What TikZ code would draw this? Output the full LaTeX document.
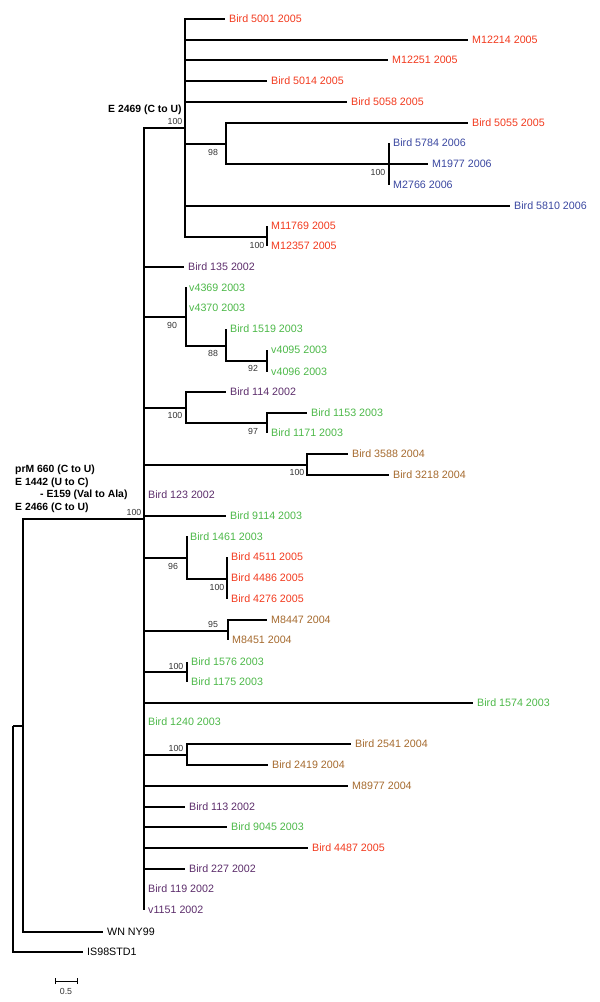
\documentclass[tikz,border=0pt]{standalone}
\usepackage{fontspec}
\setmainfont{Liberation Sans}
\definecolor{cred}{HTML}{F23A1E}
\definecolor{cblue}{HTML}{3A47A0}
\definecolor{cpurp}{HTML}{5C2D6B}
\definecolor{cgreen}{HTML}{4CB848}
\definecolor{cbrown}{HTML}{A56A2E}
\definecolor{cgray}{HTML}{333333}
\tikzset{
  br/.style={line width=1.3pt, draw=black},
  lf/.style={anchor=west, inner ysep=0pt, inner xsep=4pt, font=\fontsize{10.7}{12}\selectfont},
  rd/.style={lf, text=cred}, bl/.style={lf, text=cblue}, pu/.style={lf, text=cpurp},
  gr/.style={lf, text=cgreen}, bn/.style={lf, text=cbrown}, bk/.style={lf, text=black},
  bs/.style={inner sep=0pt, text=cgray, font=\fontsize{8.8}{10}\selectfont},
  mut/.style={anchor=west, inner sep=0pt, font=\bfseries\fontsize{10.4}{12}\selectfont}
}
\begin{document}
\begin{tikzpicture}[x=1pt,y=-1pt]
\useasboundingbox (0,0) rectangle (600,1002);
% internal nodes
\coordinate (r0) at (13,726);
\coordinate (r1) at (23,726);
\coordinate (n0) at (144,519);
\coordinate (e) at (185,128);
\coordinate (c98) at (226,144);
\coordinate (c100a) at (389,164);
\coordinate (c100b) at (267,237);
\coordinate (c90) at (186,317);
\coordinate (c88) at (226,346);
\coordinate (c92) at (267,361);
\coordinate (c114) at (186,408);
\coordinate (c97) at (267,423);
\coordinate (c3588) at (307,465);
\coordinate (c96) at (187,558);
\coordinate (c4511) at (227,579);
\coordinate (c95) at (228,631);
\coordinate (c1576) at (187,672);
\coordinate (c2541) at (187,755);
% leaves
\node[rd] (l1) at (225,19) {Bird 5001 2005};
\node[rd] (l2) at (468,40) {M12214 2005};
\node[rd] (l3) at (388,60) {M12251 2005};
\node[rd] (l4) at (267,81) {Bird 5014 2005};
\node[rd] (l5) at (347,102) {Bird 5058 2005};
\node[rd] (l6) at (468,123) {Bird 5055 2005};
\node[bl] (l7) at (389,143) {Bird 5784 2006};
\node[bl] (l8) at (428,164) {M1977 2006};
\node[bl] (l9) at (389,185) {M2766 2006};
\node[bl] (l10) at (510,206) {Bird 5810 2006};
\node[rd] (l11) at (267,226) {M11769 2005};
\node[rd] (l12) at (267,246) {M12357 2005};
\node[pu] (l13) at (184,267) {Bird 135 2002};
\node[gr] (l14) at (185,288) {v4369 2003};
\node[gr] (l15) at (185,308) {v4370 2003};
\node[gr] (l16) at (226,329) {Bird 1519 2003};
\node[gr] (l17) at (267,350) {v4095 2003};
\node[gr] (l18) at (267,372) {v4096 2003};
\node[pu] (l19) at (226,392) {Bird 114 2002};
\node[gr] (l20) at (307,413) {Bird 1153 2003};
\node[gr] (l21) at (267,433) {Bird 1171 2003};
\node[bn] (l22) at (348,454) {Bird 3588 2004};
\node[bn] (l23) at (389,475) {Bird 3218 2004};
\node[pu] (l24) at (144,495) {Bird 123 2002};
\node[gr] (l25) at (226,516) {Bird 9114 2003};
\node[gr] (l26) at (186,537) {Bird 1461 2003};
\node[rd] (l27) at (227,557) {Bird 4511 2005};
\node[rd] (l28) at (227,578) {Bird 4486 2005};
\node[rd] (l29) at (227,599) {Bird 4276 2005};
\node[bn] (l30) at (267,620) {M8447 2004};
\node[bn] (l31) at (228,640) {M8451 2004};
\node[gr] (l32) at (187,662) {Bird 1576 2003};
\node[gr] (l33) at (187,682) {Bird 1175 2003};
\node[gr] (l34) at (473,703) {Bird 1574 2003};
\node[gr] (l35) at (144,722) {Bird 1240 2003};
\node[bn] (l36) at (351,744) {Bird 2541 2004};
\node[bn] (l37) at (268,765) {Bird 2419 2004};
\node[bn] (l38) at (348,786) {M8977 2004};
\node[pu] (l39) at (185,807) {Bird 113 2002};
\node[gr] (l40) at (227,827) {Bird 9045 2003};
\node[rd] (l41) at (308,848) {Bird 4487 2005};
\node[pu] (l42) at (185,869) {Bird 227 2002};
\node[pu] (l43) at (144,889) {Bird 119 2002};
\node[pu] (l44) at (144,910) {v1151 2002};
\node[bk] (wn) at (103,932) {WN NY99};
\node[bk] (is) at (83,952) {IS98STD1};
% branches
\draw[br] (r0) -- (r1);
\draw[br] (r0) |- (is.west);
\draw[br] (r1) |- (n0);
\draw[br] (r1) |- (wn.west);
\draw[br] (n0) |- (e);
\foreach \c in {l13,l24,l25,l34,l35,l38,l39,l40,l41,l42,l43,l44}
  \draw[br] (n0) |- (\c.west);
\foreach \c in {c90,c114,c3588,c96,c95,c1576,c2541}
  \draw[br] (n0) |- (\c);
\foreach \c in {l1,l2,l3,l4,l5,l10} \draw[br] (e) |- (\c.west);
\draw[br] (e) |- (c98);
\draw[br] (e) |- (c100b);
\draw[br] (c98) |- (l6.west);
\draw[br] (c98) |- (c100a);
\foreach \c in {l7,l8,l9} \draw[br] (c100a) |- (\c.west);
\foreach \c in {l11,l12} \draw[br] (c100b) |- (\c.west);
\foreach \c in {l14,l15} \draw[br] (c90) |- (\c.west);
\draw[br] (c90) |- (c88);
\draw[br] (c88) |- (l16.west);
\draw[br] (c88) |- (c92);
\foreach \c in {l17,l18} \draw[br] (c92) |- (\c.west);
\draw[br] (c114) |- (l19.west);
\draw[br] (c114) |- (c97);
\foreach \c in {l20,l21} \draw[br] (c97) |- (\c.west);
\foreach \c in {l22,l23} \draw[br] (c3588) |- (\c.west);
\draw[br] (c96) |- (l26.west);
\draw[br] (c96) |- (c4511);
\foreach \c in {l27,l28,l29} \draw[br] (c4511) |- (\c.west);
\foreach \c in {l30,l31} \draw[br] (c95) |- (\c.west);
\foreach \c in {l32,l33} \draw[br] (c1576) |- (\c.west);
\foreach \c in {l36,l37} \draw[br] (c2541) |- (\c.west);
% bootstrap values
\node[bs] (b1) at (175,121) {100};
\node[bs] (b2) at (213,152) {98};
\node[bs] (b3) at (378,172) {100};
\node[bs] (b4) at (257,245) {100};
\node[bs] (b5) at (172,325) {90};
\node[bs] (b6) at (213,353) {88};
\node[bs] (b7) at (253,368) {92};
\node[bs] (b8) at (175,415) {100};
\node[bs] (b9) at (253,431) {97};
\node[bs] (b10) at (297,472) {100};
\node[bs] (b11) at (134,512) {100};
\node[bs] (b12) at (173,566) {96};
\node[bs] (b13) at (217,587) {100};
\node[bs] (b14) at (213,624) {95};
\node[bs] (b15) at (176,666) {100};
\node[bs] (b16) at (176,748) {100};
% mutation labels
\node[mut] (m0) at (108,110) {E 2469 (C to U)};
\node[mut] (m1) at (15,470) {prM 660 (C to U)};
\node[mut] (m2) at (15,483) {E 1442 (U to C)};
\node[mut] (m3) at (40,495) {- E159 (Val to Ala)};
\node[mut] (m4) at (15,508) {E 2466 (C to U)};
% scale bar
\coordinate (sa) at (55,981);
\coordinate (sb) at (77,981);
\draw[line width=1pt] (sa) -- (sb);
\draw[line width=1pt] ([yshift=-3]sa) -- ([yshift=3]sa);
\draw[line width=1pt] ([yshift=-3]sb) -- ([yshift=3]sb);
\node[bs] (sl) at (66,991) {0.5};
\end{tikzpicture}
\end{document}
